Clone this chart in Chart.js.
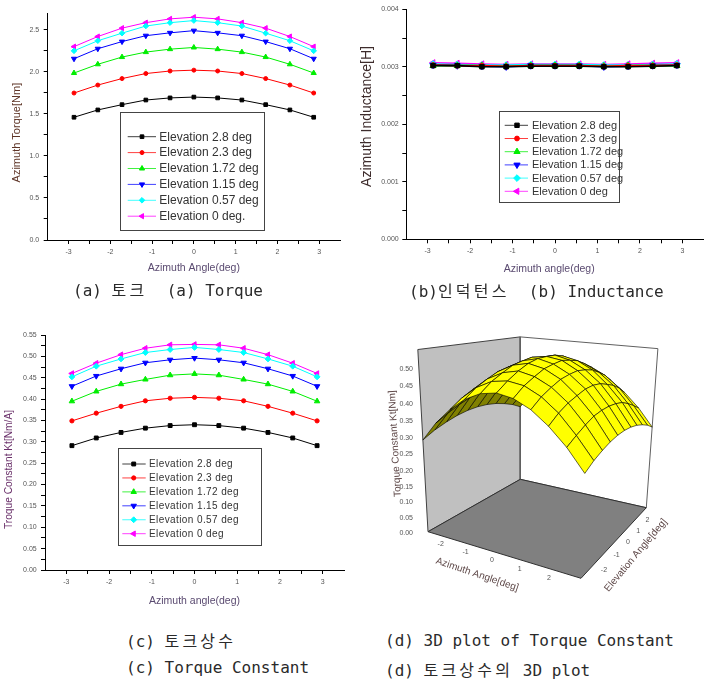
<!DOCTYPE html>
<html><head><meta charset="utf-8">
<script src="https://cdn.jsdelivr.net/npm/chart.js@4.4.1/dist/chart.umd.min.js"></script>
<style>
html,body{margin:0;padding:0;background:#fff;}
#wrap{position:relative;width:714px;height:681px;overflow:hidden;background:#fff;}
canvas{position:absolute;}
.cap{position:absolute;font-family:"DejaVu Sans Mono",monospace;font-size:16px;line-height:20px;color:#2a2a2a;white-space:pre;}
.ko{font-family:"Noto Sans CJK KR",sans-serif;letter-spacing:3.2px;}
</style></head>
<body><div id="wrap">
<canvas id="cA" style="left:0;top:0" width="357" height="280"></canvas>
<canvas id="cB" style="left:357px;top:0" width="357" height="280"></canvas>
<canvas id="cC" style="left:0;top:320px" width="357" height="290"></canvas>
<canvas id="cD" style="left:357px;top:320px" width="357" height="300"></canvas>
<div class="cap" style="left:73px;top:279px">(a) <span class="ko">토크</span>  (a) Torque</div>
<div class="cap" style="left:409px;top:280px">(b)<span class="ko">인덕턴스</span>  (b) Inductance</div>
<div class="cap" style="left:126px;top:630px">(c) <span class="ko">토크상수</span></div>
<div class="cap" style="left:126px;top:658px">(c) Torque Constant</div>
<div class="cap" style="left:385px;top:631px">(d) 3D plot of Torque Constant</div>
<div class="cap" style="left:385px;top:659px">(d) <span class="ko">토크상수의</span> 3D plot</div>
</div>
<script>
// ---------------- DATA ----------------
const azimuth = [-2.87, -2.3, -1.72, -1.15, -0.57, 0, 0.57, 1.15, 1.72, 2.3, 2.87];
const elevationGrid = [-2.87, -2.3, -1.72, -1.15, -0.57, 0, 0.57, 1.15, 1.72, 2.3, 2.87];

const labelsTorque = ['Elevation 2.8 deg','Elevation 2.3 deg','Elevation 1.72 deg','Elevation 1.15 deg','Elevation 0.57 deg','Elevation 0 deg.'];
const labelsOther  = ['Elevation 2.8 deg','Elevation 2.3 deg','Elevation 1.72 deg','Elevation 1.15 deg','Elevation 0.57 deg','Elevation 0 deg'];

// (a) Azimuth torque [Nm]
const torqueE28  = [1.46, 1.547, 1.61, 1.665, 1.69, 1.70, 1.69, 1.665, 1.61, 1.547, 1.46];
const torqueE23  = [1.748, 1.843, 1.92, 1.98, 2.01, 2.02, 2.01, 1.98, 1.92, 1.843, 1.748];
const torqueE172 = [1.986, 2.09, 2.176, 2.235, 2.27, 2.29, 2.27, 2.235, 2.176, 2.09, 1.986];
const torqueE115 = [2.156, 2.275, 2.36, 2.43, 2.464, 2.49, 2.464, 2.43, 2.36, 2.275, 2.156];
const torqueE057 = [2.25, 2.37, 2.46, 2.545, 2.585, 2.61, 2.585, 2.545, 2.46, 2.37, 2.25];
const torqueE0   = [2.30, 2.42, 2.52, 2.585, 2.63, 2.65, 2.63, 2.585, 2.52, 2.42, 2.30];

// (b) Azimuth inductance [H]
const inductE28  = [0.00302, 0.00302, 0.00300, 0.00300, 0.00301, 0.00301, 0.00301, 0.00300, 0.00300, 0.00301, 0.00302];
const inductE23  = [0.00303, 0.00302, 0.00302, 0.00301, 0.00302, 0.00302, 0.00302, 0.00301, 0.00302, 0.00302, 0.00303];
const inductE172 = [0.00302, 0.00302, 0.00302, 0.00301, 0.00302, 0.00302, 0.00302, 0.00301, 0.00302, 0.00302, 0.00302];
const inductE115 = [0.00303, 0.00302, 0.00301, 0.00300, 0.00302, 0.00302, 0.00302, 0.00300, 0.00301, 0.00302, 0.00303];
const inductE057 = [0.00305, 0.00304, 0.00303, 0.00303, 0.00304, 0.00304, 0.00304, 0.00303, 0.00303, 0.00304, 0.00305];
const inductE0   = [0.00307, 0.00306, 0.00305, 0.00304, 0.00305, 0.00305, 0.00305, 0.00304, 0.00305, 0.00306, 0.00307];

// (c) Torque constant Kt [Nm/A]
const ktE28  = [0.291, 0.309, 0.322, 0.332, 0.338, 0.340, 0.338, 0.332, 0.322, 0.309, 0.291];
const ktE23  = [0.349, 0.367, 0.383, 0.396, 0.402, 0.404, 0.402, 0.396, 0.383, 0.367, 0.349];
const ktE172 = [0.395, 0.418, 0.435, 0.446, 0.456, 0.459, 0.456, 0.446, 0.435, 0.418, 0.395];
const ktE115 = [0.430, 0.454, 0.471, 0.485, 0.492, 0.496, 0.492, 0.485, 0.471, 0.454, 0.430];
const ktE057 = [0.452, 0.477, 0.494, 0.509, 0.516, 0.521, 0.516, 0.509, 0.494, 0.477, 0.452];
const ktE0   = [0.460, 0.484, 0.504, 0.519, 0.527, 0.528, 0.527, 0.519, 0.504, 0.484, 0.460];

// tick labels
const azTicks     = [-3, -2, -1, 0, 1, 2, 3];
const torqueTicks = [0, 0.5, 1.0, 1.5, 2.0, 2.5];
const inductTicks = [0, 0.001, 0.002, 0.003, 0.004];
const ktTicks     = [0, 0.05, 0.10, 0.15, 0.20, 0.25, 0.30, 0.35, 0.40, 0.45, 0.50, 0.55];
const ktTicks3d   = [0, 0.05, 0.10, 0.15, 0.20, 0.25, 0.30, 0.35, 0.40, 0.45, 0.50];
const azTicks3d   = [-2, -1, 0, 1, 2];
const elTicks3d   = [-2, -1, 0, 1, 2];

// ---------------- STYLES ----------------
Chart.defaults.font.family = "'Liberation Sans', Arial, sans-serif";
const seriesStyle = [
  {color:'#000000', pointStyle:'rect',     rotation:0,   radius:2.6},
  {color:'#ff0000', pointStyle:'circle',   rotation:0,   radius:2.0},
  {color:'#00ee00', pointStyle:'triangle', rotation:0,   radius:3.0},
  {color:'#0000ff', pointStyle:'triangle', rotation:180, radius:3.0},
  {color:'#00ffff', pointStyle:'rectRot',  rotation:0,   radius:2.8},
  {color:'#ff00ff', pointStyle:'triangle', rotation:-90, radius:3.0}
];

function withMinor(majors){
  const out=[];
  for(let i=0;i<majors.length;i++){ out.push(majors[i]); if(i<majors.length-1) out.push((majors[i]+majors[i+1])/2); }
  return out;
}
function isMajor(v, majors){ return majors.some(m=>Math.abs(m-v)<1e-9); }

const boxLegend = {
  id:'boxLegend',
  afterDatasetsDraw(chart, args, o){
    if(!o || !o.box) return;
    const ctx = chart.ctx;
    ctx.save();
    const [x0,y0,x1,y1] = o.box;
    ctx.fillStyle='#ffffff'; ctx.fillRect(x0,y0,x1-x0,y1-y0);
    ctx.strokeStyle='#444'; ctx.lineWidth=1; ctx.strokeRect(Math.round(x0)+0.5,Math.round(y0)+0.5,Math.round(x1-x0),Math.round(y1-y0));
    chart.data.datasets.forEach((ds,i)=>{
      const y = o.rowY + i*o.rowGap;
      ctx.strokeStyle = ds.borderColor; ctx.globalAlpha=0.75; ctx.lineWidth=1;
      ctx.beginPath(); ctx.moveTo(o.lineX0,y); ctx.lineTo(o.lineX1,y); ctx.stroke();
      ctx.globalAlpha=1;
      ctx.fillStyle = ds.pointBackgroundColor; ctx.strokeStyle = ds.pointBorderColor;
      Chart.helpers.drawPoint(ctx,{pointStyle:ds.pointStyle, rotation:ds.rotation, radius:ds.pointRadius, borderWidth:1}, o.markX, y);
      ctx.fillStyle='#333';
      ctx.font = o.fontSize+"px 'Liberation Sans', Arial, sans-serif";
      if('letterSpacing' in ctx) ctx.letterSpacing = o.letterSpacing || '0px';
      ctx.textBaseline='middle'; ctx.textAlign='left';
      ctx.fillText(ds.label, o.textX, y+0.5);
      if('letterSpacing' in ctx) ctx.letterSpacing='0px';
    });
    ctx.restore();
  }
};

function make2D(id, o){
  const datasets = o.series.map((vals,i)=>{
    const st = seriesStyle[i];
    return {
      label:o.labels[i],
      data: vals.map((y,k)=>({x:azimuth[k], y})),
      borderColor:st.color, backgroundColor:st.color, borderWidth:o.lineWidth,
      pointStyle:st.pointStyle, rotation:st.rotation, pointRadius:st.radius*o.markerScale,
      pointBackgroundColor:st.color, pointBorderColor:st.color, pointBorderWidth:1,
      tension:0, fill:false, clip:false
    };
  });
  const tickFont = {size:7};
  return new Chart(document.getElementById(id), {
    type:'line',
    data:{datasets},
    plugins:[boxLegend],
    options:{
      responsive:false, animation:false, events:[],
      layout:{padding:o.padding},
      plugins:{legend:{display:false}, tooltip:{enabled:false}, boxLegend:o.legend},
      scales:{
        x:{
          type:'linear', min:-3.5, max:3.5,
          afterBuildTicks:s=>{ s.ticks = withMinor(azTicks).map(v=>({value:v})); },
          afterFit:s=>{ s.height = o.xHeight; },
          border:{display:true, color:'#000', width:1},
          grid:{display:true, drawOnChartArea:false, drawTicks:true, tickLength:4, color:'#000', tickColor:'#000'},
          ticks:{autoSkip:false, maxRotation:0, minRotation:0, padding:4, color:'#555', font:tickFont,
                 callback:v=> isMajor(v,azTicks) ? String(Math.round(v)) : ''},
          title:{display:true, text:o.xTitle, color:'#5a4a70', font:{size:10.5}, padding:{top:0,bottom:o.xTitlePad}}
        },
        y:{
          type:'linear', min:0, max:o.yMax,
          afterBuildTicks:s=>{ s.ticks = withMinor(o.yTicks).map(v=>({value:v})); },
          afterFit:s=>{ s.width = o.yWidth; },
          border:{display:true, color:'#000', width:1},
          grid:{display:true, drawOnChartArea:false, drawTicks:true, tickLength:4, color:'#000', tickColor:'#000'},
          ticks:{autoSkip:false, padding:o.yTickPad, color:'#555', font:tickFont,
                 callback:v=> isMajor(v,o.yTicks) ? v.toFixed(o.yDec) : ''},
          title:{display:true, text:o.yTitle, color:o.yTitleColor, font:{size:o.yTitleSize}, padding:{top:o.yTitlePad,bottom:0}}
        }
      }
    }
  });
}

// (a)
make2D('cA', {
  series:[torqueE28,torqueE23,torqueE172,torqueE115,torqueE057,torqueE0], labels:labelsTorque,
  lineWidth:1, markerScale:1,
  padding:{left:0, top:13, right:17, bottom:0}, xHeight:40, yWidth:47.7,
  xTitle:'Azimuth Angle(deg)', xTitlePad:6,
  yMax:2.7, yTicks:torqueTicks, yDec:1, yTickPad:4.5,
  yTitle:'Azimuth Torque[Nm]    ', yTitleColor:'#5e3426', yTitleSize:11, yTitlePad:10,
  legend:{box:[120,111.7,264.3,229.3], rowY:136.7, rowGap:15.9, lineX0:127.7, lineX1:156, markX:142, textX:159.3, fontSize:12}
});
// (b)
make2D('cB', {
  series:[inductE28,inductE23,inductE172,inductE115,inductE057,inductE0], labels:labelsOther,
  lineWidth:1.6, markerScale:1.2,
  padding:{left:0, top:9.3, right:10.3, bottom:0}, xHeight:40.7, yWidth:49.3,
  xTitle:'Azimuth angle(deg)    ', xTitlePad:4.4,
  yMax:0.004, yTicks:inductTicks, yDec:3, yTickPad:3.6,
  yTitle:'    Azimuth Inductance[H]', yTitleColor:'#3e2c2c', yTitleSize:14, yTitlePad:1.6,
  legend:{box:[142.3,110.7,262.7,201.3], rowY:125.3, rowGap:13.2, lineX0:147.7, lineX1:171, markX:160, textX:175, fontSize:11}
});
// (c)
make2D('cC', {
  series:[ktE28,ktE23,ktE172,ktE115,ktE057,ktE0], labels:labelsOther,
  lineWidth:1, markerScale:1.05,
  padding:{left:0, top:15, right:13, bottom:0}, xHeight:40, yWidth:45,
  xTitle:'Azimuth angle(deg)', xTitlePad:2.7,
  yMax:0.55, yTicks:ktTicks, yDec:2, yTickPad:4.3,
  yTitle:'Troque Constant Kt[Nm/A]            ', yTitleColor:'#6a306a', yTitleSize:10.2, yTitlePad:3.2,
  legend:{box:[117.7,128.3,260.3,225.7], rowY:144, rowGap:13.94, lineX0:122.3, lineX1:145.7, markX:133.7, textX:149, fontSize:10, letterSpacing:'0.4px'}
});

// ---------------- (d) 3D surface ----------------
// frame of the 3D box (canvas coordinates of panel d)
const frame3d = { L:[71,211.7], F:[224,258.3], R:[289.3,187.7], B:[163.3,159.3],
                  Ltop:[61,33.3], Btop:[162.3,15.7], Rtop:[301,26.7], V:[165,1894], zMax:0.55 };
function squareToQuad(p0,p1,p2,p3){
  const dx1=p1[0]-p2[0], dx2=p3[0]-p2[0], dx3=p0[0]-p1[0]+p2[0]-p3[0];
  const dy1=p1[1]-p2[1], dy2=p3[1]-p2[1], dy3=p0[1]-p1[1]+p2[1]-p3[1];
  const den=dx1*dy2-dx2*dy1;
  const g=(dx3*dy2-dx2*dy3)/den, h=(dx1*dy3-dx3*dy1)/den;
  return {a:p1[0]-p0[0]+g*p1[0], b:p3[0]-p0[0]+h*p3[0], c:p0[0],
          d:p1[1]-p0[1]+g*p1[1], e:p3[1]-p0[1]+h*p3[1], f:p0[1], g, h};
}
const HQ = squareToQuad(frame3d.L, frame3d.F, frame3d.R, frame3d.B);
function floorPt(u,v){ const w=HQ.g*u+HQ.h*v+1; return {x:(HQ.a*u+HQ.b*v+HQ.c)/w, y:(HQ.d*u+HQ.e*v+HQ.f)/w, w}; }
const BETA = (()=>{
  const pairs=[[0,0,frame3d.Ltop],[0,1,frame3d.Btop],[1,1,frame3d.Rtop]];
  let s=0;
  pairs.forEach(([u,v,T])=>{ const p=floorPt(u,v); const r=(T[1]-p.y)/(frame3d.V[1]-p.y); s+= r*p.w/(1-r); });
  return s/pairs.length;
})();
function proj(u,v,t){
  const p=floorPt(u,v); const bt=t*BETA; const den=p.w+bt;
  return {x:(p.w*p.x+bt*frame3d.V[0])/den, y:(p.w*p.y+bt*frame3d.V[1])/den, d:den};
}
const azMin=azimuth[0], azMax=azimuth[azimuth.length-1];
const elMin=elevationGrid[0], elMax=elevationGrid[elevationGrid.length-1];
const uOf=a=>(a-azMin)/(azMax-azMin), vOf=e=>(e-elMin)/(elMax-elMin), tOf=z=>z/frame3d.zMax;
// Kt rows by elevation (-2.87 .. 2.87); the 3D plot shows this table transposed
// (along its azimuth axis the surface follows the elevation dependence).
const ktByElevation = [ktE28,ktE23,ktE172,ktE115,ktE057,ktE0,ktE057,ktE115,ktE172,ktE23,ktE28];
const surfaceAt = (a,b) => ktByElevation[a][b];

function poly(pts, fillColor, lineColor, lw){
  return {data: pts.concat([pts[0]]).map(p=>({x:p.x,y:p.y})), backgroundColor:fillColor, borderColor:lineColor,
          borderWidth:lw, fill:'shape', pointRadius:0, pointHoverRadius:0, tension:0, clip:false, borderJoinStyle:'round'};
}
const painter = [];
painter.push(poly([proj(0,0,0),proj(0,1,0),proj(0,1,1),proj(0,0,1)], '#c0c0c0', '#404040', 1));   // back-left wall
painter.push(poly([proj(0,1,0),proj(1,1,0),proj(1,1,1),proj(0,1,1)], '#ffffff', '#606060', 1));   // back-right wall
painter.push(poly([proj(0,0,0),proj(1,0,0),proj(1,1,0),proj(0,1,0)], '#808080', '#303030', 1));   // floor
const cells=[];
for(let j=0;j<elevationGrid.length-1;j++){
  for(let i=0;i<azimuth.length-1;i++){
    const c=[[i,j],[i+1,j],[i+1,j+1],[i,j+1]].map(([a,b])=>proj(uOf(azimuth[a]),vOf(elevationGrid[b]),tOf(surfaceAt(a,b))));
    let area=0; for(let k=0;k<4;k++){ const p=c[k], q=c[(k+1)%4]; area+=p.x*q.y-q.x*p.y; }
    const depth=(c[0].d+c[1].d+c[2].d+c[3].d)/4;
    cells.push({c, depth, top: area<0});
  }
}
cells.sort((a,b)=>b.depth-a.depth);
cells.forEach(cl=>painter.push(poly(cl.c, cl.top?'#ffff00':'#808000', '#000000', 0.6)));
painter.forEach((ds,i)=>{ ds.order = painter.length-i; });

const labels3d = {
  id:'labels3d',
  afterDatasetsDraw(chart){
    const ctx=chart.ctx, sx=chart.scales.x, sy=chart.scales.y;
    const P=p=>({x:sx.getPixelForValue(p.x), y:sy.getPixelForValue(p.y)});
    ctx.save();
    ctx.fillStyle='#555'; ctx.font="7px 'Liberation Sans', Arial, sans-serif"; ctx.textBaseline='middle';
    const baseX = P(proj(0,0,0)).x - 15;
    ctx.textAlign='right';
    ktTicks3d.forEach(z=>{ const p=P(proj(0,0,tOf(z))); ctx.fillText(z.toFixed(2), baseX, p.y+1); });
    ctx.textAlign='center';
    azTicks3d.forEach(a=>{ const p=P(proj(uOf(a),-0.09,0)); ctx.fillText(String(a), p.x+3, p.y); });
    elTicks3d.forEach(e=>{ const p=P(proj(1.06,vOf(e),0)); ctx.fillText(String(e), p.x, p.y+2); });
    ctx.fillStyle='#5e4848'; ctx.font="10px 'Liberation Sans', Arial, sans-serif";
    const e0=P(proj(0,0,0)), e1=P(proj(1,0,0)), e2=P(proj(1,1,0));
    let p=P(proj(0.53,-0.23,0));
    ctx.save(); ctx.translate(p.x,p.y); ctx.rotate(Math.atan2(e1.y-e0.y,e1.x-e0.x)+0.03); ctx.fillText('Azimuth Angle[deg]',0,0); ctx.restore();
    p=P(proj(1.16,0.36,0));
    ctx.save(); ctx.translate(p.x,p.y); ctx.rotate(Math.atan2(e2.y-e1.y,e2.x-e1.x)-0.05); ctx.fillText('Elevation Angle[deg]',0,0); ctx.restore();
    p=P(proj(0,0,tOf(0.28)));
    const top=P(proj(0,0,1));
    ctx.save(); ctx.translate(e0.x-33, p.y+0); ctx.rotate(Math.atan2(top.y-e0.y,top.x-e0.x)); ctx.fillText('Torque Constant Kt[Nm]',0,0); ctx.restore();
    ctx.restore();
  }
};

new Chart(document.getElementById('cD'), {
  type:'line',
  data:{datasets:painter},
  plugins:[labels3d],
  options:{
    responsive:false, animation:false, events:[],
    layout:{padding:0},
    plugins:{legend:{display:false}, tooltip:{enabled:false}},
    scales:{
      x:{type:'linear', min:0, max:357, display:false},
      y:{type:'linear', min:0, max:300, reverse:true, display:false}
    }
  }
});
</script>
</body></html>
